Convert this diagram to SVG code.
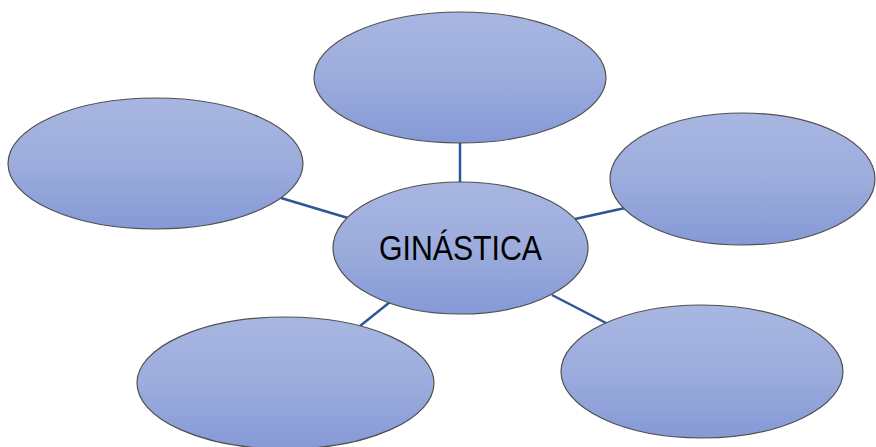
<svg xmlns="http://www.w3.org/2000/svg" width="876" height="447" viewBox="0 0 876 447">
  <defs>
    <linearGradient id="g" x1="0" y1="0" x2="0" y2="1">
      <stop offset="0" stop-color="#A8B6E1"/>
      <stop offset="0.5" stop-color="#9CACDC"/>
      <stop offset="1" stop-color="#8599D6"/>
    </linearGradient>
  </defs>
  <style>
    .n { fill: url(#g); stroke: #505050; stroke-width: 1.2; }
    .c { stroke: #2F5597; stroke-width: 2.5; fill: none; }
    .t { font-family: "Liberation Sans", Arial, sans-serif; font-size: 35px; fill: #000; }
  </style>
  <rect width="876" height="447" fill="#FFFFFF"/>
  <g id="connectors">
    <line class="c" x1="460" y1="143" x2="460" y2="183"/>
    <line class="c" x1="281" y1="198" x2="348" y2="218"/>
    <line class="c" x1="575" y1="219" x2="625" y2="208"/>
    <line class="c" x1="552" y1="295" x2="608" y2="324"/>
    <line class="c" x1="390" y1="302" x2="360" y2="326"/>
  </g>
  <g id="node-top"><ellipse class="n" cx="460" cy="77.5" rx="146" ry="65.5"/></g>
  <g id="node-left"><ellipse class="n" cx="155.5" cy="163.5" rx="147.5" ry="65.5"/></g>
  <g id="node-right"><ellipse class="n" cx="742.5" cy="179" rx="132.5" ry="66"/></g>
  <g id="node-bottom-left"><ellipse class="n" cx="285.5" cy="383" rx="148.5" ry="66"/></g>
  <g id="node-bottom-right"><ellipse class="n" cx="702" cy="371.5" rx="141" ry="66.5"/></g>
  <g id="node-center">
    <ellipse class="n" cx="460.5" cy="248" rx="127.5" ry="66"/>
    <text class="t" x="460.5" y="260" text-anchor="middle" textLength="163" lengthAdjust="spacingAndGlyphs">GINÁSTICA</text>
  </g>
</svg>
